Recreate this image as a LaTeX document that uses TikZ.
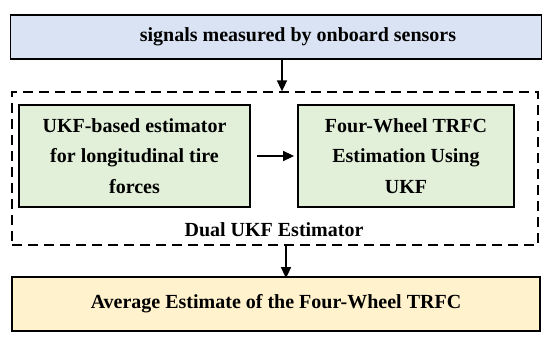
\documentclass[tikz,border=0pt]{standalone}
\usepackage{fontspec}
\setmainfont{Liberation Serif}
\usetikzlibrary{arrows.meta}

\tikzset{
  blk/.style={draw, line width=1.8pt, inner sep=0pt, align=center,
    font=\fontsize{20}{30.5}\selectfont\bfseries},
  flow/.style={line width=1.6pt, -{Triangle[length=11pt,width=10pt]}}
}
\definecolor{sensblue}{HTML}{DAE3F3}
\definecolor{estgreen}{HTML}{E2F0D9}
\definecolor{avgyellow}{HTML}{FFF2CC}

\begin{document}
\begin{tikzpicture}[x=1pt,y=-1pt]
  \useasboundingbox (0,0) rectangle (550,338);
  % input signals
  \node[blk, fill=sensblue, minimum width=531pt, minimum height=44pt] (sig) at (276,36.6) {\hspace*{44pt}signals measured by onboard sensors};
  % dual estimator frame
  \node[draw, dash pattern=on 10pt off 6pt, line width=1.3pt, minimum width=526pt, minimum height=153pt] (dual) at (275,168.5) {};
  \node[blk, fill=estgreen, minimum width=231pt, minimum height=102pt] (ukf) at (134.5,156) {UKF-based estimator\\for longitudinal tire\\forces};
  \node[blk, fill=estgreen, minimum width=216pt, minimum height=102pt] (trfc) at (406,156) {Four-Wheel TRFC\\Estimation Using\\UKF};
  \node[font=\fontsize{20}{24}\selectfont\bfseries] (duallbl) at (274,230) {Dual UKF Estimator};
  % output
  \node[blk, fill=avgyellow, minimum width=528pt, minimum height=54pt] (avg) at (276,304) {Average Estimate of the Four-Wheel TRFC};

  \coordinate (a1) at (282,0);
  \coordinate (a2) at (286,0);
  \draw[flow] (sig.south -| a1) -- (dual.north -| a1);
  \draw[flow] ([xshift=6pt]ukf.east) -- ([xshift=-3pt]trfc.west);
  \draw[flow] (dual.south -| a2) -- ([yshift=-2pt]avg.north -| a2);
\end{tikzpicture}
\end{document}
